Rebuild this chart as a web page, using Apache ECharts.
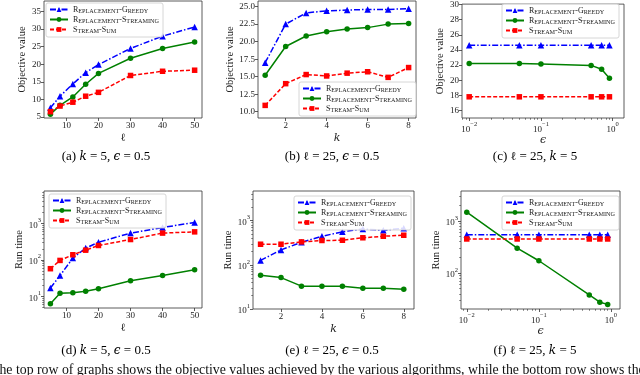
<!DOCTYPE html>
<html>
<head>
<meta charset="utf-8">
<script src="https://cdn.jsdelivr.net/npm/echarts@6/dist/echarts.min.js"></script>
<style>
  html, body { margin: 0; padding: 0; background: #fff; }
  #main { width: 640px; height: 375px; }
</style>
</head>
<body>
<div id="main"></div>
<script>
// algorithm names (legend order)
const NAMES = ['Replacement-Greedy', 'Replacement-Streaming', 'Stream-Sum']

// x values
const X_ELL = [5, 8, 12, 16, 20, 30, 40, 50]
const X_K = [1, 2, 3, 4, 5, 6, 7, 8]
const X_EPS = [0.01, 0.05, 0.1, 0.5, 0.7, 0.9]

// objective value (top row)
const objEllGreedy = [7.6, 10.9, 14.4, 17.6, 19.9, 24.5, 28.0, 30.6]
const objEllStream = [5.8, 8.3, 10.7, 14.3, 17.4, 21.7, 24.5, 26.3]
const objEllSum = [6.5, 8.1, 9.2, 10.9, 12.0, 16.8, 18.0, 18.3]

const objKGreedy = [17.0, 22.5, 24.1, 24.4, 24.5, 24.6, 24.6, 24.7]
const objKStream = [15.2, 19.3, 20.8, 21.4, 21.8, 22.0, 22.5, 22.6]
const objKSum = [10.9, 14.0, 15.3, 15.1, 15.5, 15.7, 14.9, 16.3]

const objEpsGreedy = [24.6, 24.6, 24.6, 24.6, 24.6, 24.6]
const objEpsStream = [22.2, 22.2, 22.15, 21.95, 21.45, 20.25]
const objEpsSum = [17.8, 17.8, 17.8, 17.8, 17.8, 17.8]

// run time (bottom row)
const timeEllGreedy = [17, 37, 111, 209, 302, 537, 760, 1050]
const timeEllStream = [6.3, 12.1, 12.6, 13.7, 16.2, 26.8, 37.3, 53]
const timeEllSum = [57, 96, 137, 183, 246, 358, 537, 580]

const timeKGreedy = [126, 218, 324, 444, 560, 650, 605, 675]
const timeKStream = [58, 51.5, 32.9, 32.9, 32.9, 29.6, 29.6, 28]
const timeKSum = [293, 293, 331, 356, 360, 410, 444, 468]

const timeEpsGreedy = [540, 540, 540, 540, 540, 540]
const timeEpsStream = [1470, 300, 172, 38, 27.6, 25]
const timeEpsSum = [450, 450, 450, 450, 450, 450]

// tick labels
const TICKS_ELL = [10, 20, 30, 40, 50]
const TICKS_K = [2, 4, 6, 8]
const TICKS_EPS = [0.01, 0.1, 1]
const TICKS_OBJ_ELL = [5, 10, 15, 20, 25, 30, 35]
const TICKS_OBJ_K = [10, 12.5, 15, 17.5, 20, 22.5, 25]
const TICKS_OBJ_EPS = [16, 18, 20, 22, 24, 26, 28, 30]
const TICKS_TIME = [10, 100, 1000]
const TICKS_TIME_EPS = [100, 1000]

const SERIF = 'Liberation Serif, DejaVu Serif, serif'
const MATH = 'DejaVu Serif, serif'
const COLORS = ['#0000ff', '#008000', '#ff0000']
const SYMBOLS = ['triangle', 'circle', 'rect']
const SYMBOL_SIZE = [6.5, 5.5, 5.5]
const LINE_TYPES = [[6, 2, 1.5, 2], 'solid', [4, 2]]

const SMALLCAPS = {
  'Replacement-Greedy': '{c|R}{s|EPLACEMENT}{c|-G}{s|REEDY}',
  'Replacement-Streaming': '{c|R}{s|EPLACEMENT}{c|-S}{s|TREAMING}',
  'Stream-Sum': '{c|S}{s|TREAM}{c|-S}{s|UM}'
}

// log tick labels as 10 with a raised exponent
function powLabel (v) {
  const e = String(Math.round(Math.log10(v))).replace('-', '−')
  return '{b|10}{e|' + e + '}'
}
const POW_RICH = {
  b: { fontFamily: SERIF, fontSize: 9, lineHeight: 13, verticalAlign: 'bottom', color: '#222' },
  e: { fontFamily: SERIF, fontSize: 6.5, lineHeight: 7, verticalAlign: 'top', color: '#222' }
}

function minorLogTicks (min, max) {
  const out = []
  for (let e = Math.floor(Math.log10(min)); e <= Math.ceil(Math.log10(max)); e++) {
    for (let m = 2; m <= 9; m++) {
      const v = m * Math.pow(10, e)
      if (v >= min && v <= max) out.push(v)
    }
  }
  return out
}

const panels = [
  {
    grid: { left: 44, top: 1, width: 158, height: 117 },
    x: { type: 'value', min: 3, max: 52.3, ticks: TICKS_ELL },
    y: { type: 'value', min: 4.7, max: 38, ticks: TICKS_OBJ_ELL },
    xs: X_ELL, ys: [objEllGreedy, objEllStream, objEllSum],
    xName: 'ℓ', xItalic: false, yName: 'Objective value',
    legend: { left: 46, top: 3 },
    caption: { x: 106, y: 157, text: '{n|(a) }{i|k}{n| = 5, }{i|ϵ}{n| = 0.5}' }
  },
  {
    grid: { left: 258, top: 1, width: 158, height: 117 },
    x: { type: 'value', min: 0.65, max: 8.36, ticks: TICKS_K },
    y: { type: 'value', min: 9.1, max: 25.8, ticks: TICKS_OBJ_K, fixed: 1 },
    xs: X_K, ys: [objKGreedy, objKStream, objKSum],
    xName: 'k', xItalic: true, yName: 'Objective value',
    legend: { left: 299, top: 82 },
    caption: { x: 332, y: 157, text: '{n|(b) }{m|ℓ}{n| = 25, }{i|ϵ}{n| = 0.5}' }
  },
  {
    grid: { left: 462, top: 1, width: 162, height: 117 },
    x: { type: 'log', min: Math.pow(10, -2.1), max: Math.pow(10, 0.157), ticks: TICKS_EPS },
    y: { type: 'value', min: 15, max: 30.05, ticks: TICKS_OBJ_EPS },
    xs: X_EPS, ys: [objEpsGreedy, objEpsStream, objEpsSum],
    xName: 'ϵ', xItalic: true, yName: 'Objective value',
    legend: { left: 502, top: 4 },
    caption: { x: 535, y: 157, text: '{n|(c) }{m|ℓ}{n| = 25, }{i|k}{n| = 5}' }
  },
  {
    grid: { left: 44, top: 191, width: 158, height: 117 },
    x: { type: 'value', min: 3, max: 52.3, ticks: TICKS_ELL },
    y: { type: 'log', min: 4.8, max: 7600, ticks: TICKS_TIME },
    xs: X_ELL, ys: [timeEllGreedy, timeEllStream, timeEllSum],
    xName: 'ℓ', xItalic: false, yName: 'Run time',
    legend: { left: 49, top: 194 },
    caption: { x: 106, y: 351, text: '{n|(d) }{i|k}{n| = 5, }{i|ϵ}{n| = 0.5}' }
  },
  {
    grid: { left: 253, top: 191, width: 161, height: 118 },
    x: { type: 'value', min: 0.63, max: 8.5, ticks: TICKS_K },
    y: { type: 'log', min: 10, max: 4700, ticks: TICKS_TIME },
    xs: X_K, ys: [timeKGreedy, timeKStream, timeKSum],
    xName: 'k', xItalic: true, yName: 'Run time',
    legend: { left: 294, top: 196 },
    caption: { x: 332, y: 351, text: '{n|(e) }{m|ℓ}{n| = 25, }{i|ϵ}{n| = 0.5}' }
  },
  {
    grid: { left: 461, top: 191, width: 159, height: 118 },
    x: { type: 'log', min: Math.pow(10, -2.08), max: Math.pow(10, 0.125), ticks: TICKS_EPS },
    y: { type: 'log', min: 20.4, max: 3750, ticks: TICKS_TIME_EPS },
    xs: X_EPS, ys: [timeEpsGreedy, timeEpsStream, timeEpsSum],
    xName: 'ϵ', xItalic: true, yName: 'Run time',
    legend: { left: 502, top: 196 },
    caption: { x: 535, y: 351, text: '{n|(f) }{m|ℓ}{n| = 25, }{i|k}{n| = 5}' }
  }
]

const grids = []
const xAxes = []
const yAxes = []
const series = []
const legends = []
const graphics = []

function labelFormatter (ax) {
  if (ax.type === 'log') return powLabel
  if (ax.fixed) return v => Number(v).toFixed(ax.fixed)
  return v => String(v)
}

function baseAxis (ax, gi, pos) {
  return {
    type: ax.type,
    gridIndex: gi,
    position: pos,
    offset: 0,
    min: ax.min,
    max: ax.max,
    logBase: 10,
    axisLine: { show: false },
    splitLine: { show: false },
    minorTick: { show: false },
    axisTick: { show: true, length: 3, lineStyle: { color: '#333', width: 0.8 }, customValues: ax.ticks },
    axisLabel: {
      customValues: ax.ticks,
      formatter: labelFormatter(ax),
      fontFamily: SERIF,
      fontSize: 9,
      color: '#222',
      margin: 3,
      rich: ax.type === 'log' ? POW_RICH : undefined
    }
  }
}

function minorAxis (ax, gi, pos) {
  return {
    type: 'log',
    gridIndex: gi,
    position: pos,
    offset: 0,
    min: ax.min,
    max: ax.max,
    logBase: 10,
    axisLine: { show: false },
    splitLine: { show: false },
    axisLabel: { show: false },
    axisTick: { show: true, length: 1.8, lineStyle: { color: '#333', width: 0.6 }, customValues: minorLogTicks(ax.min, ax.max) }
  }
}

panels.forEach((p, gi) => {
  grids.push(Object.assign({ show: true, borderColor: '#333', borderWidth: 0.8, backgroundColor: 'transparent' }, p.grid))

  const xi = xAxes.length
  const xa = baseAxis(p.x, gi, 'bottom')
  xa.name = p.xName
  xa.nameLocation = 'middle'
  xa.nameGap = p.x.type === 'log' ? 17 : 15
  xa.nameTextStyle = { fontFamily: MATH, fontSize: 11, fontStyle: p.xItalic ? 'italic' : 'normal', color: '#222' }
  xAxes.push(xa)
  if (p.x.type === 'log') xAxes.push(minorAxis(p.x, gi, 'bottom'))

  const yi = yAxes.length
  const ya = baseAxis(p.y, gi, 'left')
  ya.name = p.yName
  ya.nameLocation = 'middle'
  ya.nameGap = p.y.fixed ? 20 : (p.y.type === 'log' ? 17 : 14)
  ya.nameTextStyle = { fontFamily: SERIF, fontSize: 10.5, color: '#222' }
  yAxes.push(ya)
  if (p.y.type === 'log') yAxes.push(minorAxis(p.y, gi, 'left'))

  p.ys.forEach((vals, j) => {
    series.push({
      name: NAMES[j],
      type: 'line',
      xAxisIndex: xi,
      yAxisIndex: yi,
      data: p.xs.map((x, k) => [x, vals[k]]),
      symbol: SYMBOLS[j],
      symbolSize: SYMBOL_SIZE[j],
      showSymbol: true,
      itemStyle: { color: COLORS[j] },
      lineStyle: { color: COLORS[j], width: 1.5, type: LINE_TYPES[j] },
      z: 2 + j,
      emphasis: { disabled: true },
      silent: true
    })
  })

  legends.push({
    left: p.legend.left,
    top: p.legend.top,
    orient: 'vertical',
    data: NAMES,
    itemWidth: 18,
    itemHeight: 6,
    itemGap: 2,
    padding: [3, 4, 3, 3],
    borderColor: '#ccc',
    borderWidth: 0.8,
    borderRadius: 2,
    backgroundColor: 'rgba(255,255,255,0.85)',
    selectedMode: false,
    formatter: name => SMALLCAPS[name],
    textStyle: {
      color: '#222',
      rich: {
        c: { fontFamily: SERIF, fontSize: 8, lineHeight: 9, verticalAlign: 'bottom', color: '#222' },
        s: { fontFamily: SERIF, fontSize: 6.2, lineHeight: 9, verticalAlign: 'bottom', color: '#222' }
      }
    }
  })

  graphics.push({
    type: 'text',
    x: p.caption.x,
    y: p.caption.y,
    style: {
      text: p.caption.text,
      align: 'center',
      verticalAlign: 'middle',
      rich: {
        n: { fontFamily: SERIF, fontSize: 13, color: '#111' },
        i: { fontFamily: MATH, fontSize: 12, fontStyle: 'italic', color: '#111' },
        m: { fontFamily: MATH, fontSize: 12, color: '#111' }
      }
    }
  })
})

graphics.push({
  type: 'text',
  x: -9,
  y: 377,
  style: {
    text: 'The top row of graphs shows the objective values achieved by the various algorithms, while the bottom row shows the',
    font: '13.8px ' + SERIF,
    fill: '#111',
    align: 'left',
    verticalAlign: 'bottom'
  }
})

const chart = echarts.init(document.getElementById('main'), null, { renderer: 'canvas' })
chart.setOption({
  animation: false,
  backgroundColor: '#fff',
  grid: grids,
  xAxis: xAxes,
  yAxis: yAxes,
  legend: legends,
  series: series,
  graphic: graphics
})
</script>
</body>
</html>
